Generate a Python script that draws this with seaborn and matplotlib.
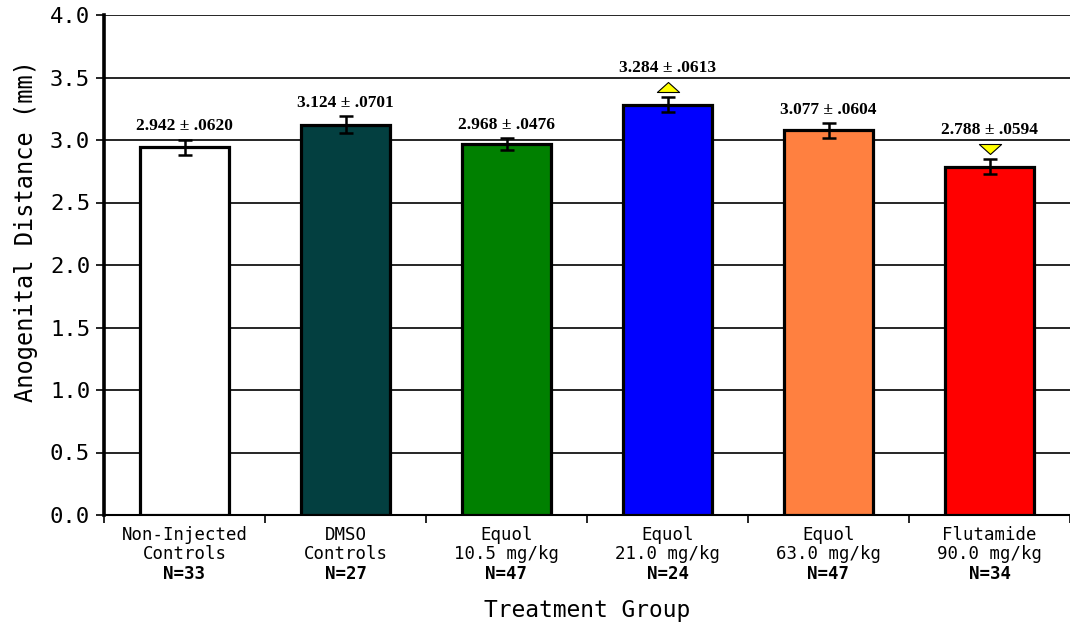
import matplotlib
matplotlib.use("Agg")
import matplotlib.pyplot as plt
import matplotlib.transforms as mtransforms
from matplotlib.path import Path
import seaborn as sns
import numpy as np

# Treatment groups and measured anogenital distance (mean ± SEM, mm)
groups = ["Non-Injected\nControls", "DMSO\nControls", "Equol\n10.5 mg/kg",
          "Equol\n21.0 mg/kg", "Equol\n63.0 mg/kg", "Flutamide\n90.0 mg/kg"]
n_sizes = [33, 27, 47, 24, 47, 34]
means = [2.942, 3.124, 2.968, 3.284, 3.077, 2.788]
sems = [0.0620, 0.0701, 0.0476, 0.0613, 0.0604, 0.0594]
# significance direction vs. controls: +1 higher, -1 lower, 0 none
signif = [0, 0, 0, 1, 0, -1]
bar_colors = ["#FFFFFF", "#033F40", "#008000", "#0000FF", "#FF8040", "#FF0000"]
y_ticks = [0.0, 0.5, 1.0, 1.5, 2.0, 2.5, 3.0, 3.5, 4.0]

sns.set_theme(style="white", rc={"text.color": "black", "axes.labelcolor": "black",
                                 "xtick.color": "black", "ytick.color": "black"})
mono = "DejaVu Sans Mono"
serif = "Liberation Serif"

fig = plt.figure(figsize=(10.70, 6.25), dpi=100)
ax = fig.add_axes([104 / 1070, 1 - 515 / 625, 1 - 104 / 1070, 500 / 625])

x = np.arange(len(groups))
sns.barplot(x=x, y=means, hue=x, palette=bar_colors, legend=False,
            width=0.55, edgecolor="black", linewidth=2.3, saturation=1,
            ax=ax, zorder=3)

ax.errorbar(x, means, yerr=sems, fmt="none", ecolor="black",
            elinewidth=1.8, capsize=5, capthick=1.8, zorder=4)

# yellow triangles flag significant increase / decrease
up_tri = Path([(-1, -0.45), (1, -0.45), (0, 0.45), (-1, -0.45)],
              [Path.MOVETO, Path.LINETO, Path.LINETO, Path.CLOSEPOLY])
down_tri = Path([(-1, 0.45), (1, 0.45), (0, -0.45), (-1, 0.45)],
                [Path.MOVETO, Path.LINETO, Path.LINETO, Path.CLOSEPOLY])
for i, (m, s, d) in enumerate(zip(means, sems, signif)):
    top = m + s
    if d != 0:
        ym = top + 0.08
        ax.plot(i, ym, marker=up_tri if d > 0 else down_tri, markersize=16,
                markerfacecolor="#FFFF00", markeredgecolor="black",
                markeredgewidth=0.8, zorder=5, linestyle="none")
        top = ym + 0.05
    label = f"{m:.3f} \u00b1 {s:.4f}".replace(" 0.", " .")
    ax.text(i, top + 0.04, label, ha="center", va="bottom",
            family=serif, fontweight="bold", fontsize=12.5, zorder=6)

ax.set_ylim(0, 4.0)
ax.set_xlim(-0.5, 5.5 - 12 / 163)
ax.set_yticks(y_ticks)
ax.set_yticklabels([f"{v:.1f}" for v in y_ticks], family=mono, fontsize=16)
ax.grid(axis="y", color="black", linewidth=1.2, zorder=0)
ax.set_axisbelow(True)

ax.set_xticks(x)
ax.set_xticklabels(groups, family=mono, fontsize=12.5, linespacing=1.05)
ax.tick_params(axis="x", which="major", length=0, pad=8)
ax.set_xticks(np.arange(-0.5, len(groups), 1.0), minor=True)
ax.tick_params(axis="x", which="minor", length=6, width=1.2, color="black",
               direction="out", bottom=True)
ax.tick_params(axis="y", length=6, width=1.2, color="black",
               direction="out", left=True, pad=4)

trans = mtransforms.blended_transform_factory(ax.transData, ax.transAxes)
for i, n in enumerate(n_sizes):
    ax.text(i, -0.118, f"N={n}", transform=trans, ha="center", va="center",
            family=mono, fontweight="bold", fontsize=12.5)

for side in ["top", "right"]:
    ax.spines[side].set_visible(False)
ax.spines["left"].set_linewidth(2.6)
ax.spines["bottom"].set_linewidth(1.5)
ax.spines["left"].set_color("black")
ax.spines["bottom"].set_color("black")

ax.set_ylabel("Anogenital Distance (mm)", family=mono, fontsize=17)
ax.yaxis.set_label_coords(-0.068, 0.568)
ax.set_xlabel("Treatment Group", family=mono, fontsize=16.5)
ax.xaxis.set_label_coords(0.5, -0.168)

fig.savefig("out.png", dpi=100)
